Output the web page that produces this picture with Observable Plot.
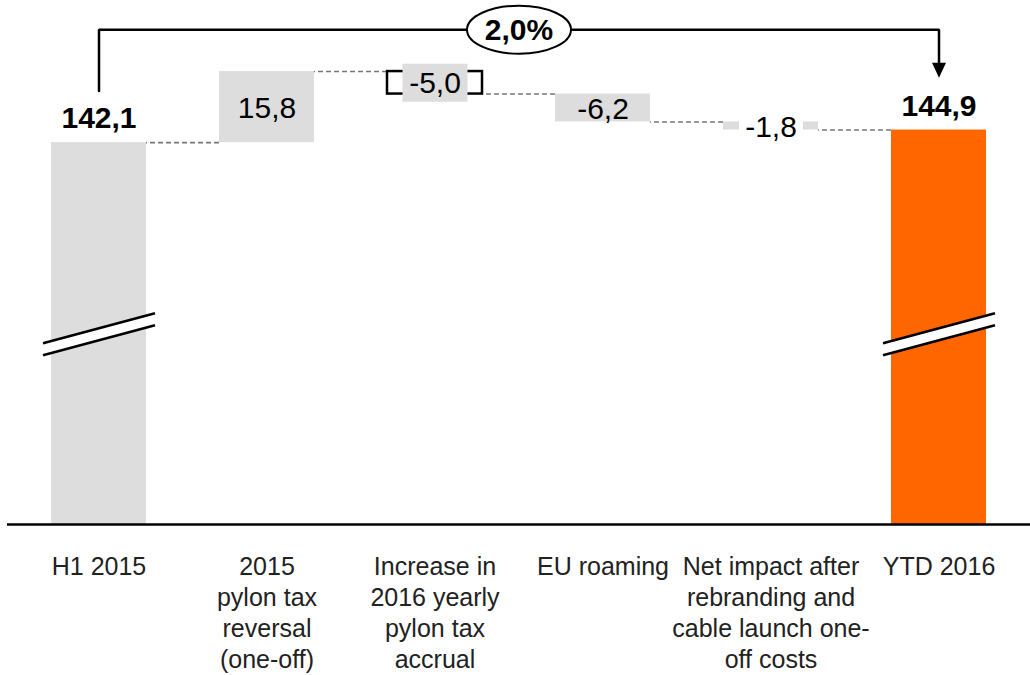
<!DOCTYPE html>
<html><head><meta charset="utf-8">
<script src="https://cdn.jsdelivr.net/npm/d3@7"></script>
<script src="https://cdn.jsdelivr.net/npm/@observablehq/plot@0.6"></script>
<style>html,body{margin:0;padding:0;background:#fff;} #chart{width:1030px;height:675px;overflow:hidden}</style>
</head><body><div id="chart"></div>
<script>
// ---- data ----
const categories = ["H1 2015", "2015 pylon tax reversal (one-off)", "Increase in 2016 yearly pylon tax accrual", "EU roaming", "Net impact after rebranding and cable launch one-off costs", "YTD 2016"];
const tickLabels = ["H1 2015", "2015\npylon tax\nreversal\n(one-off)", "Increase in\n2016 yearly\npylon tax\naccrual", "EU roaming", "Net impact after\nrebranding and\ncable launch one-\noff costs", "YTD 2016"];
const barKinds = ["total", "delta", "delta", "delta", "delta", "total"];
const values = [142.1, 15.8, -5.0, -6.2, -1.8, 144.9];
const valueLabels = ["142,1", "15,8", "-5,0", "-6,2", "-1,8", "144,9"];
const growthLabel = "2,0%";

// broken value axis
const axisBase = 57.2;
const axisTop = 173.7;
const breakAt = 99.5;
// growth bridge (value levels)
const bridgeStart = 153.6, bridgeLevel = 167.2, bridgeEnd = 158.1;

// ---- waterfall table ----
let level = 0;
const rows = categories.map((cat, i) => {
  let y1, y2;
  if (barKinds[i] === "total") { y1 = axisBase; y2 = values[i]; }
  else { y1 = level; y2 = level + values[i]; }
  level = y2;
  return {cat, i, kind: barKinds[i], label: valueLabels[i], y1, y2, mid: (y1 + y2) / 2};
});
const steps = rows.slice(0, -1).map((r, i) => ({from: r.cat, to: rows[i + 1].cat, level: r.y2}));
const totals = rows.filter(r => r.kind === "total");
const deltas = rows.filter(r => r.kind === "delta");
const bracketRow = rows[2];
const gapRow = rows[4];
const grayBars = rows.filter(r => r !== bracketRow && r.i !== rows.length - 1);
const finalBar = rows[rows.length - 1];
const bridge = [
  {x: categories[0], y: bridgeStart},
  {x: categories[0], y: bridgeLevel},
  {x: categories[categories.length - 1], y: bridgeLevel},
  {x: categories[categories.length - 1], y: bridgeEnd}
];

// ---- symbols ----
const boxSymbol = (w, h) => ({draw(ctx) { ctx.rect(-w / 2, -h / 2, w, h); }});
const breakFill = {draw(ctx) { ctx.moveTo(-56, 9); ctx.lineTo(56, -21); ctx.lineTo(56, -9); ctx.lineTo(-56, 21); ctx.closePath(); }};
const breakLines = {draw(ctx) { ctx.moveTo(-56, 9); ctx.lineTo(56, -21); ctx.moveTo(-56, 21); ctx.lineTo(56, -9); }};
const ellipseSymbol = (rx, ry) => ({draw(ctx) {
  const kx = rx * 0.5523, ky = ry * 0.5523;
  ctx.moveTo(-rx, 0);
  ctx.bezierCurveTo(-rx, -ky, -kx, -ry, 0, -ry);
  ctx.bezierCurveTo(kx, -ry, rx, -ky, rx, 0);
  ctx.bezierCurveTo(rx, ky, kx, ry, 0, ry);
  ctx.bezierCurveTo(-kx, ry, -rx, ky, -rx, 0);
  ctx.closePath();
}});
const arrowSymbol = {draw(ctx) { ctx.moveTo(-7, -8); ctx.lineTo(7, -8); ctx.lineTo(0, 7); ctx.closePath(); }};

const font = "'Liberation Sans', Arial, Helvetica, sans-serif";

const chart = Plot.plot({
  width: 1030,
  height: 675,
  marginTop: 0,
  marginBottom: 151,
  marginLeft: 7,
  marginRight: 0,
  style: {fontFamily: font, background: "#fff", color: "#000"},
  x: {domain: categories, paddingInner: 0.435, paddingOuter: 0.262},
  y: {domain: [axisBase, axisTop], axis: null},
  marks: [
    Plot.ruleY(steps, {y: "level", x1: "to", x2: "from", stroke: "#777", strokeWidth: 1.6, strokeDasharray: "5,3"}),
    Plot.barY(grayBars, {x: "cat", y1: "y1", y2: "y2", fill: "#DDDDDD"}),
    Plot.barY([finalBar], {x: "cat", y1: "y1", y2: "y2", fill: "#FF6600"}),
    Plot.barY([bracketRow], {x: "cat", y1: "y1", y2: "y2", fill: "#fff", stroke: "#000", strokeWidth: 2.5}),
    Plot.dot(totals, {x: "cat", y: () => breakAt, symbol: breakFill, fill: "#fff", stroke: "none"}),
    Plot.dot(totals, {x: "cat", y: () => breakAt, symbol: breakLines, fill: "none", stroke: "#000", strokeWidth: 2.5}),
    Plot.dot([bracketRow], {x: "cat", y: "mid", symbol: boxSymbol(65, 38), fill: "#DDDDDD", stroke: "none"}),
    Plot.dot([gapRow], {x: "cat", y: "mid", symbol: boxSymbol(64, 36), fill: "#fff", stroke: "none"}),
    Plot.text(deltas, {x: "cat", y: "mid", text: "label", fontSize: 30, fill: "#000", dy: 1}),
    Plot.text(totals, {x: "cat", y: "y2", text: "label", fontSize: 30, fontWeight: "bold", fill: "#000", dy: -24}),
    Plot.line(bridge, {x: "x", y: "y", stroke: "#000", strokeWidth: 2.5, strokeLinejoin: "miter"}),
    Plot.dot([bridge[3]], {x: "x", y: "y", symbol: arrowSymbol, fill: "#000", stroke: "none"}),
    Plot.dot([growthLabel], {y: () => bridgeLevel, symbol: ellipseSymbol(52, 24), fill: "#fff", stroke: "#000", strokeWidth: 2}),
    Plot.text([growthLabel], {y: () => bridgeLevel, text: d => d, fontSize: 30, fontWeight: "bold", fill: "#000", dy: 1}),
    Plot.ruleY([axisBase], {stroke: "#000", strokeWidth: 2.5}),
    Plot.axisX({tickSize: 0, tickPadding: 28, tickFormat: d => tickLabels[categories.indexOf(d)], fontSize: 25, lineHeight: 1.24, fill: "#222"})
  ]
});
document.getElementById("chart").appendChild(chart);
</script>
</body></html>
